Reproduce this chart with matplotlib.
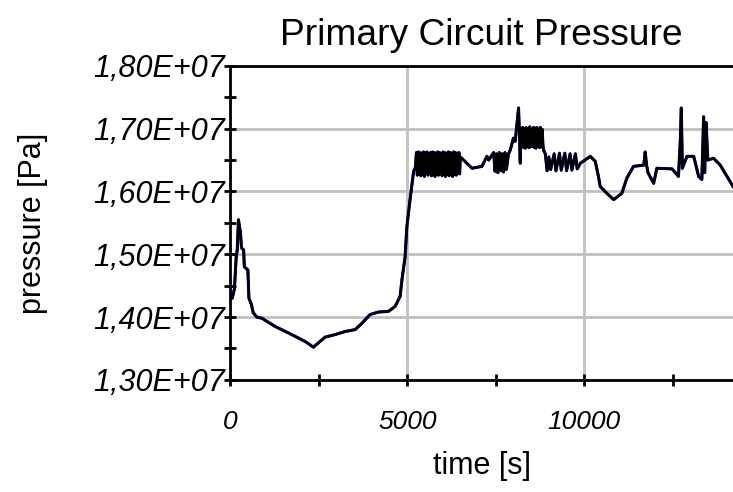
import matplotlib
matplotlib.use("Agg")
import matplotlib.pyplot as plt
from matplotlib.ticker import MultipleLocator, FuncFormatter
import numpy as np

# time [s] and pressure [MPa]
time_s = [0, 60, 120, 170, 200, 235, 260, 290, 320, 380, 400, 500, 530, 600, 650, 750, 900,
          1270, 1740, 2120, 2350, 2680, 2960, 3250, 3530, 3720, 3950, 4190, 4470, 4660, 4800,
          4850, 4940, 4990, 5080, 5180, 5230,
          5260, 5285, 5310, 5335, 5360, 5385, 5410, 5435, 5460, 5485, 5510, 5535, 5560, 5585,
          5610, 5635, 5660, 5685, 5710, 5735, 5760, 5785, 5810, 5835, 5860, 5885, 5910, 5935,
          5960, 5985, 6010, 6035, 6060, 6085, 6110, 6135, 6160, 6185, 6210, 6235, 6260, 6285,
          6310, 6335, 6360, 6385, 6410, 6435, 6460, 6480,
          6500, 6830, 7110, 7250, 7300,
          7440, 7480, 7520, 7560, 7600, 7640, 7680, 7720, 7760, 7800, 7860,
          7910, 8000, 8050, 8144, 8170, 8192, 8210,
          8235, 8260, 8285, 8310, 8335, 8360, 8385, 8410, 8435, 8460, 8485, 8510, 8535, 8560,
          8585, 8610, 8635, 8660, 8685, 8710, 8735, 8760, 8785, 8810, 8835, 8850,
          8900, 8950, 9000, 9050, 9150, 9200, 9300, 9350, 9450, 9500, 9600, 9650, 9750, 9800, 9890,
          10170, 10310, 10400, 10450, 10640, 10830, 11060, 11200, 11390, 11680, 11720, 11760,
          11800, 11960, 12050, 12480, 12660, 12710, 12740, 12770, 12900, 13090, 13230, 13320,
          13370, 13400, 13440, 13490, 13650, 13840, 14030, 14200]
pressure_mpa = [14.33, 14.30, 14.45, 14.95, 15.07, 15.55, 15.45, 15.35, 15.10, 15.07, 14.80, 14.75,
                14.30, 14.20, 14.07, 14.00, 13.98,
                13.85, 13.72, 13.61, 13.52, 13.68, 13.72, 13.77, 13.80, 13.90, 14.04, 14.08, 14.09,
                14.17, 14.33, 14.59, 14.96, 15.44, 15.87, 16.32, 16.38,
                16.62, 16.26, 16.63, 16.30, 16.62, 16.25, 16.61, 16.28, 16.63, 16.24, 16.62, 16.29,
                16.63, 16.26, 16.61, 16.30, 16.62, 16.25, 16.63, 16.27, 16.62, 16.24, 16.61, 16.29,
                16.63, 16.26, 16.62, 16.30, 16.61, 16.25, 16.63, 16.28, 16.62, 16.24, 16.61, 16.27,
                16.63, 16.25, 16.62, 16.29, 16.61, 16.24, 16.63, 16.28, 16.62, 16.26, 16.61, 16.30,
                16.62, 16.28,
                16.55, 16.37, 16.40, 16.56, 16.50,
                16.62, 16.32, 16.60, 16.30, 16.62, 16.33, 16.60, 16.31, 16.62, 16.35, 16.60,
                16.66, 16.85, 16.80, 17.33, 16.90, 16.45, 17.00,
                16.72, 17.02, 16.70, 17.00, 16.69, 17.02, 16.72, 17.00, 16.70, 17.03, 16.71, 16.98,
                16.72, 17.02, 16.70, 17.01, 16.69, 17.02, 16.72, 17.00, 16.70, 17.02, 16.71, 16.99,
                16.72, 16.66,
                16.60, 16.33, 16.55, 16.35, 16.60, 16.33, 16.61, 16.34, 16.61, 16.33, 16.60, 16.34,
                16.60, 16.36, 16.45,
                16.56, 16.48, 16.24, 16.08, 15.97, 15.87, 15.97, 16.21, 16.40, 16.42, 16.63, 16.42,
                16.30, 16.13, 16.37, 16.36, 16.24, 16.79, 17.33, 16.37, 16.56, 16.56, 16.24, 16.19,
                17.19, 16.30, 17.10, 16.50, 16.53, 16.42, 16.24, 16.08]

plt.rcParams['font.family'] = ['Liberation Sans', 'DejaVu Sans']

fig = plt.figure(figsize=(7.33, 4.92), dpi=100)
ax = fig.add_axes([0.314, 0.228, 0.686, 0.638])

p = np.array(pressure_mpa) * 1e6
ax.plot(time_s, p, color='#0000cc', lw=2.2, zorder=2)
ax.plot(time_s, p, color='black', lw=1.9, zorder=3)

ax.set_xlim(0, 14200)
ax.set_ylim(1.3e7, 1.8e7)
ax.xaxis.set_major_locator(MultipleLocator(5000))
ax.xaxis.set_minor_locator(MultipleLocator(2500))
ax.yaxis.set_major_locator(MultipleLocator(1e6))
ax.yaxis.set_minor_locator(MultipleLocator(5e5))
ax.yaxis.set_major_formatter(FuncFormatter(lambda v, pos: ('%.2E' % v).replace('.', ',')))

ax.grid(True, which='major', color='#c0c0c0', lw=2)
ax.set_axisbelow(True)

for s in ['left', 'top', 'bottom']:
    ax.spines[s].set_linewidth(2)
ax.spines['right'].set_visible(False)

ax.tick_params(which='both', direction='inout', width=2, length=8)
ax.tick_params(axis='x', which='major', pad=18, labelsize=19)
ax.tick_params(axis='y', which='major', pad=0, labelsize=22)
for lab in ax.get_xticklabels() + ax.get_yticklabels():
    lab.set_fontstyle('italic')

ax.set_xlabel('time [s]', fontsize=22, labelpad=12)
ax.set_ylabel('pressure [Pa]', fontsize=22)
ax.yaxis.set_label_coords(-0.362, 0.5)
ax.set_title('Primary Circuit Pressure', fontsize=26.7, pad=15)

fig.savefig('out.png', dpi=100)
